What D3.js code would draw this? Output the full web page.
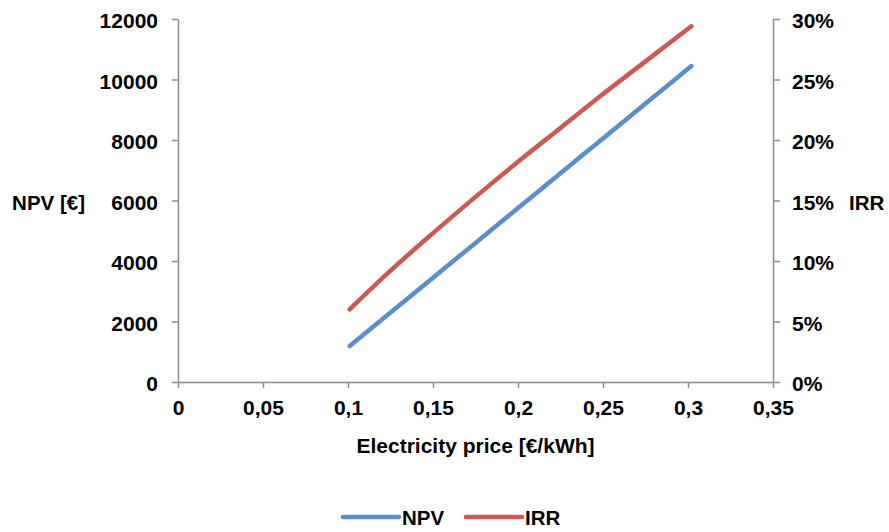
<!DOCTYPE html>
<html>
<head>
<meta charset="utf-8">
<script src="https://cdn.jsdelivr.net/npm/d3@7"></script>
<style>
	body { margin: 0; background: #fff; }
	text { font-family: "Liberation Sans", Arial, sans-serif; font-weight: bold; fill: #000; }
</style>
</head>
<body>
<svg id="chart" width="889" height="532"></svg>
<script>

// Data

var price = [0.101, 0.125, 0.15, 0.175, 0.2, 0.225, 0.25, 0.275, 0.302];
var npv = [1190, 2295, 3446, 4598, 5749, 6900, 8052, 9203, 10446];
var irr = [0.060, 0.092, 0.123, 0.153, 0.182, 0.210, 0.238, 0.265, 0.294];

var xTicks = [0, 0.05, 0.1, 0.15, 0.2, 0.25, 0.3, 0.35];
var npvTicks = [0, 2000, 4000, 6000, 8000, 10000, 12000];
var irrTicks = [0, 0.05, 0.1, 0.15, 0.2, 0.25, 0.3];

var seriesNames = ["NPV", "IRR"];
var colors = ["#5b8fcb", "#cb5a52"];

// Layout

var plotLeft = 178, plotRight = 773, plotTop = 19, plotBottom = 382;
var svg = d3.select("#chart");

var x = d3.scaleLinear().domain([0, 0.35]).range([plotLeft, plotRight]);
var yL = d3.scaleLinear().domain([0, 12000]).range([plotBottom, plotTop]);
var yR = d3.scaleLinear().domain([0, 0.3]).range([plotBottom, plotTop]);

function styleAxis(g) {
	g.selectAll("path, line").attr("stroke", "#8c8c8c").attr("stroke-width", 1.5);
	g.selectAll("text").style("font-size", "21px");
}

svg.append("g")
	.attr("transform", "translate(0," + plotBottom + ")")
	.call(d3.axisBottom(x).tickValues(xTicks).tickSize(6).tickSizeOuter(0).tickPadding(12)
		.tickFormat(function(d) { return String(d).replace(".", ","); }))
	.call(styleAxis);

svg.append("g")
	.attr("transform", "translate(" + plotLeft + ",0)")
	.call(d3.axisLeft(yL).tickValues(npvTicks).tickSize(6).tickSizeOuter(0).tickPadding(14)
		.tickFormat(d3.format("d")))
	.call(styleAxis);

svg.append("g")
	.attr("transform", "translate(" + plotRight + ",0)")
	.call(d3.axisRight(yR).tickValues(irrTicks).tickSize(7).tickSizeOuter(0).tickPadding(12)
		.tickFormat(d3.format(".0%")))
	.call(styleAxis);

// y labels sit a touch low in the original
svg.selectAll("g text").attr("dy", function() {
	return d3.select(this.parentNode.parentNode).attr("transform").indexOf("translate(0,") === 0 ? "0.71em" : "0.42em";
});

// Lines

var npvLine = d3.line()
	.x(function(d, i) { return x(price[i]); })
	.y(function(d) { return yL(d); })
	.curve(d3.curveMonotoneX);

var irrLine = d3.line()
	.x(function(d, i) { return x(price[i]); })
	.y(function(d) { return yR(d); })
	.curve(d3.curveMonotoneX);

svg.append("path").datum(npv)
	.attr("d", npvLine)
	.attr("fill", "none").attr("stroke", colors[0]).attr("stroke-width", 4.5)
	.attr("stroke-linecap", "round");

svg.append("path").datum(irr)
	.attr("d", irrLine)
	.attr("fill", "none").attr("stroke", colors[1]).attr("stroke-width", 4.5)
	.attr("stroke-linecap", "round");

// Axis titles

svg.append("text")
	.attr("x", (plotLeft + plotRight) / 2).attr("y", 453)
	.attr("text-anchor", "middle").style("font-size", "21px")
	.text("Electricity price [€/kWh]");

svg.append("text")
	.attr("x", 85).attr("y", 210)
	.attr("text-anchor", "end").style("font-size", "20.5px")
	.text("NPV [€]");

svg.append("text")
	.attr("x", 849).attr("y", 210)
	.style("font-size", "20.5px")
	.text("IRR");

// Legend

var legendX = [343, 466];
var legend = svg.selectAll(".legend").data(seriesNames).enter()
	.append("g").attr("class", "legend")
	.attr("transform", function(d, i) { return "translate(" + legendX[i] + ",517)"; });

legend.append("line")
	.attr("x1", 0).attr("x2", 56).attr("y1", 0).attr("y2", 0)
	.attr("stroke", function(d, i) { return colors[i]; })
	.attr("stroke-width", 4.5).attr("stroke-linecap", "round");

legend.append("text")
	.attr("x", 59).attr("y", 8)
	.style("font-size", "20.5px")
	.text(function(d) { return d; });

</script>
</body>
</html>
